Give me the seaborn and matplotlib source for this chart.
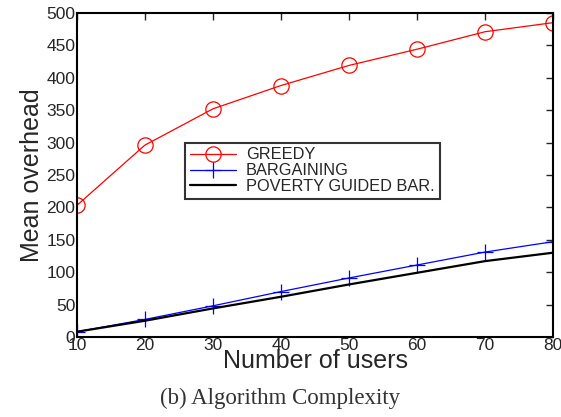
import numpy as np
import pandas as pd
import matplotlib
matplotlib.use('Agg')
import matplotlib.pyplot as plt
import seaborn as sns

sns.set_style("white")
plt.rcParams['font.family'] = ['Liberation Sans', 'DejaVu Sans']

users = [10, 20, 30, 40, 50, 60, 70, 80]
greedy = [203, 296, 352, 388, 419, 444, 471, 485]
bargaining = [8, 27, 48, 70, 91, 111, 131, 147]
poverty = [8, 25, 44, 62, 81, 99, 117, 130]

fig = plt.figure(figsize=(5.61, 4.17), dpi=100)
ax = fig.add_axes([0.137, 0.192, 0.849, 0.777])

sns.lineplot(x=users, y=greedy, ax=ax, color='red', lw=0.9, marker='o', markersize=11,
             markerfacecolor='none', markeredgecolor='red', markeredgewidth=0.9, label='GREEDY')
sns.lineplot(x=users, y=bargaining, ax=ax, color='blue', lw=0.9, marker='+', markersize=12,
             markeredgecolor='blue', markeredgewidth=0.9, label='BARGAINING')
sns.lineplot(x=users, y=poverty, ax=ax, color='black', lw=1.6, label='POVERTY GUIDED BAR.')

ax.set_xlim(10, 80)
ax.set_ylim(0, 500)
ax.set_xticks(users)
ax.set_yticks(range(0, 501, 50))
ax.tick_params(direction='in', top=True, right=True, length=5, width=1, labelsize=12.5, pad=1)
for s in ax.spines.values():
    s.set_linewidth(1.5)
    s.set_color('black')

ax.set_xlabel('Number of users', fontsize=18, labelpad=-3)
ax.set_ylabel('Mean overhead', fontsize=18, labelpad=2)

leg = ax.legend(loc='upper left', bbox_to_anchor=(0.228, 0.6), fontsize=11.8, frameon=True,
                fancybox=False, edgecolor='black', borderpad=0.3, labelspacing=0.05,
                handlelength=2.8, handletextpad=0.6, borderaxespad=0)
leg.get_frame().set_linewidth(1.5)

fig.text(0.5, 0.03, '(b) Algorithm Complexity', ha='center', fontsize=16.5,
         family='Liberation Serif', color='#333333')

fig.savefig('out.png', dpi=100)
